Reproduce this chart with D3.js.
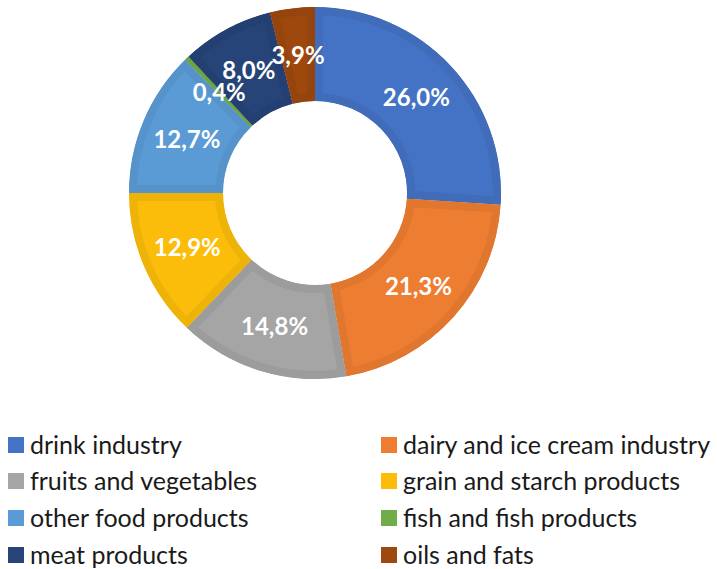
<!DOCTYPE html>
<html>
<head>
<meta charset="utf-8">
<script src="https://cdn.jsdelivr.net/npm/d3@7"></script>
<style>
  html, body { margin: 0; padding: 0; background: #fff; }
  svg { display: block; }
</style>
</head>
<body>
<svg id="chart" width="717" height="569"></svg>
<script>
// Share of food industry branches (%)
const categories = [
  "drink industry",
  "dairy and ice cream industry",
  "fruits and vegetables",
  "grain and starch products",
  "other food products",
  "fish and fish products",
  "meat products",
  "oils and fats"
];
const shares = [26.0, 21.3, 14.8, 12.9, 12.7, 0.4, 8.0, 3.9];
const colors = ["#4472C4", "#ED7D31", "#A5A5A5", "#FBBD0A", "#5B9BD5", "#70AD47", "#264478", "#9E480E"];

const data = categories.map((name, i) => ({ name, value: shares[i], color: colors[i] }));

const svg = d3.select("#chart");
const cx = 315, cy = 193, outerR = 186, innerR = 92;

const pie = d3.pie().value(d => d.value).sort(null);
const arc = d3.arc().innerRadius(innerR).outerRadius(outerR);
const arcs = pie(data);

const defs = svg.append("defs");
const g = svg.append("g").attr("transform", `translate(${cx},${cy})`);

// Each slice: flat face with a slightly darker bevelled rim kept inside the slice
arcs.forEach((a, i) => {
  const id = "clip" + i;
  defs.append("clipPath").attr("id", id)
    .append("path").attr("d", arc(a));
  const base = d3.color(a.data.color);
  const rim = base.darker(0.15);
  g.append("path")
    .attr("d", arc(a))
    .attr("fill", base)
    .attr("stroke", rim)
    .attr("stroke-width", 16)
    .attr("stroke-linejoin", "miter")
    .attr("clip-path", `url(#${id})`);
});

// Percentage labels at slice centroids
const fmt = v => v.toFixed(1).replace(".", ",") + "%";
g.selectAll("text.lbl")
  .data(arcs)
  .join("text")
  .attr("class", "lbl")
  .attr("transform", d => `translate(${arc.centroid(d)})`)
  .attr("text-anchor", "middle")
  .attr("dy", "0.36em")
  .attr("fill", "#fff")
  .style("font-family", "Lato, 'Open Sans', sans-serif")
  .style("font-weight", "bold")
  .style("font-size", "24px")
  .text(d => fmt(d.data.value));

// Legend in two columns
const legend = svg.append("g");
const colX = [8, 381];
const rowY = [445, 481, 518, 555];
data.forEach((d, i) => {
  const x = colX[i % 2], y = rowY[Math.floor(i / 2)];
  legend.append("rect")
    .attr("x", x).attr("y", y - 8)
    .attr("width", 16).attr("height", 16)
    .attr("fill", d.color);
  legend.append("text")
    .attr("x", x + 22).attr("y", y)
    .attr("dy", "0.35em")
    .attr("fill", "#1a1a1a")
    .style("font-family", "Lato, 'Open Sans', sans-serif")
    .style("font-size", "25px")
    .text(d.name);
});
</script>
</body>
</html>
